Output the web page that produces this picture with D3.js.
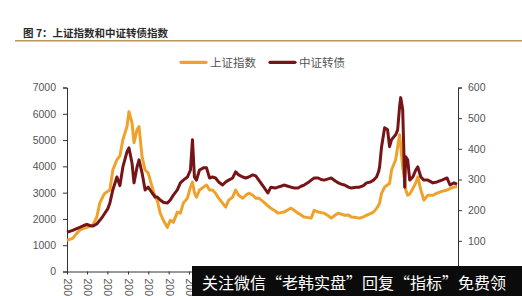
<!DOCTYPE html>
<html><head><meta charset="utf-8">
<script src="https://cdn.jsdelivr.net/npm/d3@7"></script>
<style>
html,body{margin:0;padding:0;background:#fff;}
svg{display:block;}
</style></head>
<body>
<svg id="c" width="522" height="296"></svg>
<script>
const title = "图 7：上证指数和中证转债指数";
const seriesNames = ["上证指数", "中证转债"];
const watermark = "关注微信“老韩实盘”回复“指标”免费领";

const dates = ["2006-01-04","2006-02-01","2006-03-05","2006-04-16","2006-05-18","2006-06-29","2006-07-31","2006-09-01","2006-10-02","2006-11-13","2006-12-15",
"2007-01-16","2007-02-06","2007-03-10","2007-03-31","2007-05-01","2007-06-13","2007-07-15","2007-08-15","2007-09-27","2007-10-18","2007-11-19","2007-12-10",
"2008-01-11","2008-02-01","2008-03-04","2008-04-05","2008-05-07","2008-06-18","2008-07-20","2008-08-10","2008-09-11","2008-10-13","2008-11-24","2008-12-26",
"2009-01-27","2009-03-10","2009-04-11","2009-05-12","2009-06-24","2009-07-26","2009-08-16","2009-09-06","2009-09-27","2009-10-29","2009-12-10",
"2010-01-11","2010-02-12","2010-03-15","2010-04-16","2010-05-18","2010-06-29","2010-07-31","2010-09-01","2010-10-13","2010-11-13","2010-12-15",
"2011-01-27","2011-02-28","2011-03-31","2011-05-12","2011-06-13","2011-07-15","2011-09-06","2011-10-18","2011-11-19",
"2012-01-04","2012-02-01","2012-03-04","2012-04-05","2012-05-17","2012-06-18","2012-07-30","2012-08-31","2012-10-02","2012-11-03","2012-12-15",
"2013-01-16","2013-02-17","2013-03-31","2013-05-01","2013-06-02","2013-07-15","2013-08-15","2013-09-27","2013-10-29","2013-11-29",
"2014-01-02","2014-02-12","2014-03-15","2014-05-07","2014-06-08","2014-07-20","2014-08-21","2014-10-02","2014-11-03","2014-12-05","2014-12-26",
"2015-01-06","2015-01-27","2015-02-28","2015-03-31","2015-04-21","2015-05-12","2015-06-24","2015-07-15","2015-08-05","2015-08-16","2015-09-06","2015-09-17","2015-09-27","2015-10-08","2015-10-29","2015-11-19","2015-12-21",
"2016-01-22","2016-02-12","2016-03-15","2016-04-16","2016-05-28","2016-07-20","2016-09-01","2016-10-23","2016-12-15",
"2017-01-16","2017-02-27","2017-03-31"];

const shIndex = [1186,1220,1260,1450,1570,1640,1680,1720,1760,2070,2600,
2850,2980,3050,3100,3860,4250,4400,5010,5510,6080,5660,4900,
5400,5510,4360,3860,3750,3210,2830,2715,2220,1950,1680,1950,
1870,2260,2220,2600,2790,3210,3400,3000,2830,3100,3210,
3290,3100,3100,2980,2790,2600,2450,2715,2830,3100,2900,
2790,2900,2980,2900,2790,2790,2640,2500,2410,
2300,2220,2240,2260,2350,2410,2300,2220,2150,2070,2050,
2030,2330,2260,2240,2220,2120,2030,2150,2220,2180,
2140,2150,2070,2050,2030,2080,2140,2200,2260,2400,2520,
2600,2980,3210,3300,3350,3860,4250,4740,5200,4800,3980,3700,3480,3100,2900,2950,3150,
3370,3600,3100,2715,2900,2900,2980,3050,3100,
3150,3210,3230];

const cbIndex = [128,131,134,140,144,150,154,150,148,155,167,
180,190,205,223,266,308,280,341,390,403,354,289,
341,364,321,266,275,256,243,243,233,226,223,233,
249,266,289,298,308,331,430,308,298,331,338,
338,305,308,305,292,282,292,298,305,325,315,
308,305,308,315,312,298,275,256,275,
272,275,278,282,278,275,272,272,278,282,290,
298,305,305,300,298,302,305,295,289,285,
282,275,272,275,275,280,289,292,298,308,325,
341,407,469,462,407,430,446,462,540,567,528,407,275,374,364,298,308,
331,341,308,298,298,289,292,298,305,
282,289,285];

const xTickLabels = ["2006-01-04","2006-08-03","2007-03-05","2007-10-08","2008-05-08","2008-12-09","2009-07-10","2010-02-11","2010-09-13","2011-04-15",
"2011-11-15","2012-06-18","2013-01-18","2013-08-21","2014-03-24","2014-10-24","2015-05-27","2015-12-28","2016-07-29","2017-03-02"];
const leftTicks = [0,1000,2000,3000,4000,5000,6000,7000];
const rightTicks = [100,200,300,400,500,600];

const parse = d3.timeParse("%Y-%m-%d");
const svg = d3.select("#c");

const x = d3.scaleTime().domain([parse("2006-01-04"), parse("2017-04-10")]).range([67, 458]);
const yL = d3.scaleLinear().domain([0, 7000]).range([271.5, 87.5]);
const yR = d3.scaleLinear().domain([0, 600]).range([271.5, 87.5]);

const ORANGE = "#EFA22B", DARK = "#761418";
const font = "'Liberation Sans', Arial, sans-serif";
const cjk = "'Noto Sans CJK SC', sans-serif";

// title
svg.append("text").attr("x", 23).attr("y", 37).attr("font-family", cjk).attr("font-size", 10.5)
  .attr("font-weight", "bold").attr("fill", "#2a2a2a").text(title);
svg.append("line").attr("x1", 15).attr("x2", 522).attr("y1", 40.8).attr("y2", 40.8)
  .attr("stroke", "#b99660").attr("stroke-width", 1.4);

// legend
const leg = [{n: seriesNames[0], c: ORANGE, x: 181}, {n: seriesNames[1], c: DARK, x: 270}];
leg.forEach(l => {
  svg.append("line").attr("x1", l.x).attr("x2", l.x + 25).attr("y1", 62.3).attr("y2", 62.3)
    .attr("stroke", l.c).attr("stroke-width", 3.2).attr("stroke-linecap", "round");
  svg.append("text").attr("x", l.x + 29).attr("y", 66.5).attr("font-family", cjk).attr("font-size", 11.5)
    .attr("fill", "#555").text(l.n);
});

// axes
const axL = svg.append("g").attr("transform", "translate(67,0)")
  .call(d3.axisLeft(yL).tickValues(leftTicks).tickSize(4).tickPadding(7).tickFormat(d3.format("d")));
const axR = svg.append("g").attr("transform", "translate(458,0)")
  .call(d3.axisRight(yR).tickValues(rightTicks).tickSize(4).tickPadding(6).tickFormat(d3.format("d")));
const axB = svg.append("g").attr("transform", "translate(0,271.5)")
  .call(d3.axisBottom(x).tickValues(xTickLabels.map(parse)).tickSize(3).tickFormat(d3.timeFormat("%Y-%m-%d")));
[axL, axR, axB].forEach(a => {
  a.select(".domain").attr("stroke", "#333").attr("stroke-width", 1);
  a.selectAll(".tick line").attr("stroke", "#333");
  a.selectAll("text").attr("font-family", font).attr("font-size", 10.5).attr("fill", "#555");
});
axB.select(".domain").attr("d", "M67,0.5H458");
axB.selectAll("text").attr("transform", "rotate(90)").attr("text-anchor", "start")
  .attr("x", 7).attr("y", 0).attr("dy", "0.35em");

// lines
const pts = dates.map((d, i) => ({t: parse(d), a: shIndex[i], b: cbIndex[i]}));
svg.append("path").datum(pts).attr("fill", "none").attr("stroke", ORANGE).attr("stroke-width", 3)
  .attr("stroke-linejoin", "round").attr("d", d3.line().x(d => x(d.t)).y(d => yL(d.a)));
svg.append("path").datum(pts).attr("fill", "none").attr("stroke", DARK).attr("stroke-width", 3)
  .attr("stroke-linejoin", "round").attr("d", d3.line().x(d => x(d.t)).y(d => yR(d.b)));

// watermark
svg.append("rect").attr("x", 192).attr("y", 266).attr("width", 330).attr("height", 30).attr("fill", "#0b0b0b");
svg.append("text").attr("x", 202).attr("y", 289).attr("font-family", cjk).attr("font-size", 16)
  .attr("fill", "#fff").text(watermark);
</script>
</body></html>
